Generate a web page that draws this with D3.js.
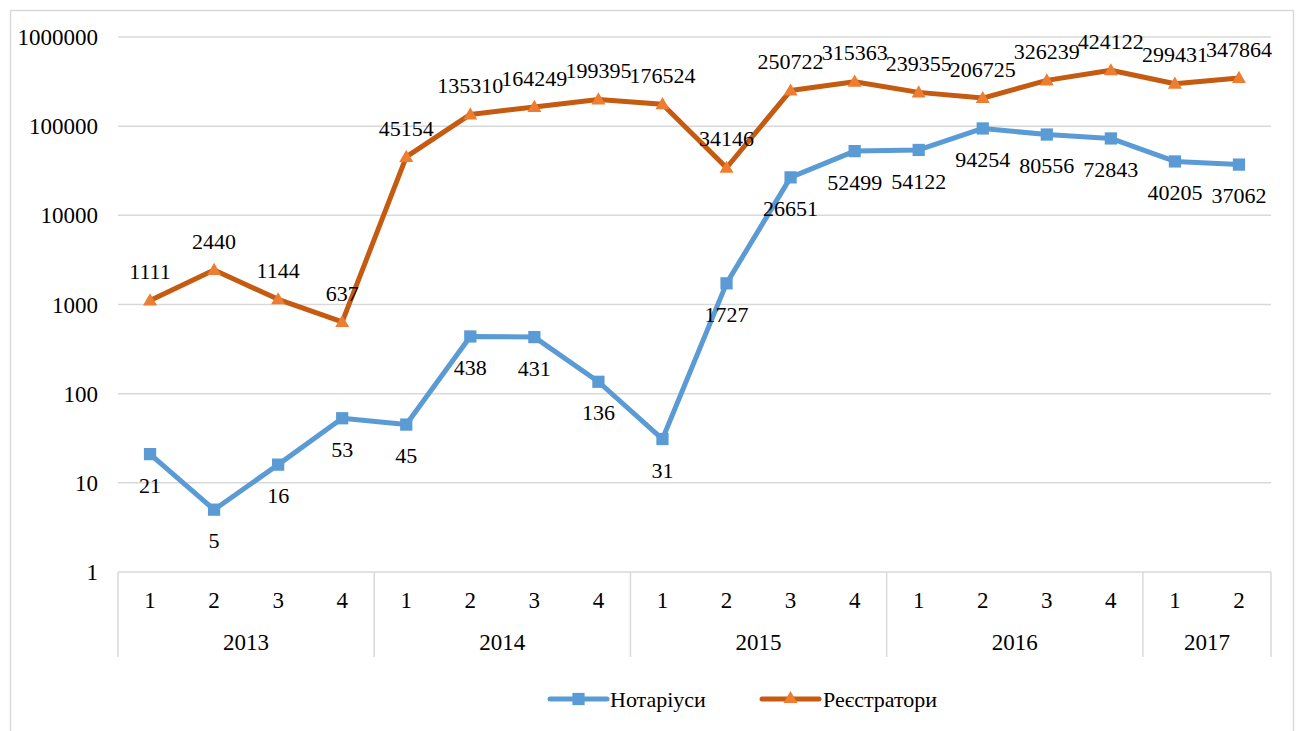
<!DOCTYPE html>
<html>
<head>
<meta charset="utf-8">
<script src="https://cdn.jsdelivr.net/npm/d3@7"></script>
<style>
    body { margin: 0; background: #fff; }
</style>
</head>
<body>
<div id="chart"></div>
<script>
// quarters and years of the category axis
const quarters = ['1', '2', '3', '4', '1', '2', '3', '4', '1', '2', '3', '4', '1', '2', '3', '4', '1', '2'];
const years = ['2013', '2014', '2015', '2016', '2017'];
const quartersPerYear = [4, 4, 4, 4, 2];

const notaries = [21, 5, 16, 53, 45, 438, 431, 136, 31, 1727, 26651, 52499, 54122, 94254, 80556, 72843, 40205, 37062];
const registrars = [1111, 2440, 1144, 637, 45154, 135310, 164249, 199395, 176524, 34146, 250722, 315363, 239355, 206725, 326239, 424122, 299431, 347864];

const yTicks = [1, 10, 100, 1000, 10000, 100000, 1000000];

const width = 1301;
const height = 731;
const plot = { left: 118, right: 1271, top: 37, bottom: 572 };
const fontFamily = "'Liberation Serif', 'Times New Roman', Tinos, 'DejaVu Serif', serif";

const svg = d3.select('#chart')
    .append('svg')
    .attr('width', width)
    .attr('height', height)
    .attr('font-family', fontFamily)
    .style('font-family', fontFamily);

// outer chart border
svg.append('rect')
    .attr('x', 10.5).attr('y', 10.5)
    .attr('width', 1283).attr('height', 740)
    .attr('fill', 'none')
    .attr('stroke', '#d9d9d9')
    .attr('stroke-width', 1.5);

const xScale = d3.scaleBand()
    .domain(d3.range(quarters.length))
    .range([plot.left, plot.right]);

const yScale = d3.scaleLog()
    .domain([1, 1000000])
    .range([plot.bottom, plot.top]);

// gridlines
svg.selectAll('.grid')
    .data(yTicks)
    .enter().append('line')
    .attr('class', 'grid')
    .attr('x1', plot.left)
    .attr('x2', plot.right)
    .attr('y1', d => yScale(d))
    .attr('y2', d => yScale(d))
    .attr('stroke', '#d9d9d9')
    .attr('stroke-width', 1.5);

// y labels
svg.selectAll('.yLabel')
    .data(yTicks)
    .enter().append('text')
    .attr('class', 'yLabel')
    .attr('x', 98)
    .attr('y', d => yScale(d))
    .attr('dy', '0.35em')
    .attr('text-anchor', 'end')
    .style('font-size', '23px')
    .text(d => d);

// category axis: quarter labels
svg.selectAll('.qLabel')
    .data(quarters)
    .enter().append('text')
    .attr('class', 'qLabel')
    .attr('x', (d, i) => xScale(i) + xScale.bandwidth() / 2)
    .attr('y', 600)
    .attr('dy', '0.35em')
    .attr('text-anchor', 'middle')
    .style('font-size', '23px')
    .text(d => d);

// year groups
const yearStarts = [];
let acc = 0;
quartersPerYear.forEach(n => { yearStarts.push(acc); acc += n; });

const boundaries = yearStarts.concat([quarters.length]);
svg.selectAll('.ySep')
    .data(boundaries)
    .enter().append('line')
    .attr('class', 'ySep')
    .attr('x1', d => d < quarters.length ? xScale(d) : plot.right)
    .attr('x2', d => d < quarters.length ? xScale(d) : plot.right)
    .attr('y1', plot.bottom)
    .attr('y2', 657)
    .attr('stroke', '#d9d9d9')
    .attr('stroke-width', 1.5);

svg.selectAll('.yearLabel')
    .data(years)
    .enter().append('text')
    .attr('class', 'yearLabel')
    .attr('x', (d, i) => xScale(yearStarts[i]) + xScale.bandwidth() * quartersPerYear[i] / 2)
    .attr('y', 642)
    .attr('dy', '0.35em')
    .attr('text-anchor', 'middle')
    .style('font-size', '23px')
    .text(d => d);

const cx = i => xScale(i) + xScale.bandwidth() / 2;

const line = d3.line()
    .x((d, i) => cx(i))
    .y(d => yScale(d));

const series = [
    { name: 'Нотаріуси', values: notaries, line: '#5b9bd5', marker: '#5b9bd5', symbol: d3.symbolSquare, size: 150, labelDy: 31 },
    { name: 'Реєстратори', values: registrars, line: '#c55a11', marker: '#ed7d31', symbol: d3.symbolTriangle, size: 85, labelDy: -29 }
];

series.forEach(s => {
    svg.append('path')
        .datum(s.values)
        .attr('d', line)
        .attr('fill', 'none')
        .attr('stroke', s.line)
        .attr('stroke-width', 5)
        .attr('stroke-linejoin', 'round');

    svg.selectAll(null)
        .data(s.values)
        .enter().append('path')
        .attr('d', d3.symbol().type(s.symbol).size(s.size))
        .attr('transform', (d, i) => `translate(${cx(i)},${yScale(d) + (s.symbol === d3.symbolTriangle ? 1 : 0)})`)
        .attr('fill', s.marker);
});

series.forEach(s => {
    svg.selectAll(null)
        .data(s.values)
        .enter().append('text')
        .attr('x', (d, i) => cx(i))
        .attr('y', d => yScale(d) + s.labelDy)
        .attr('dy', '0.35em')
        .attr('text-anchor', 'middle')
        .style('font-size', '22px')
        .text(d => d);
});

// legend
const legend = [
    { x: 550, textX: 610 },
    { x: 762, textX: 823 }
];
series.forEach((s, i) => {
    const g = svg.append('g');
    g.append('line')
        .attr('x1', legend[i].x).attr('x2', legend[i].x + 57)
        .attr('y1', 699).attr('y2', 699)
        .attr('stroke', s.line)
        .attr('stroke-width', 5)
        .attr('stroke-linecap', 'round');
    g.append('path')
        .attr('d', d3.symbol().type(s.symbol).size(s.size))
        .attr('transform', `translate(${legend[i].x + 28.5},699)`)
        .attr('fill', s.marker);
    g.append('text')
        .attr('x', legend[i].textX)
        .attr('y', 699)
        .attr('dy', '0.35em')
        .style('font-size', '22px')
        .text(s.name);
});
</script>
</body>
</html>
